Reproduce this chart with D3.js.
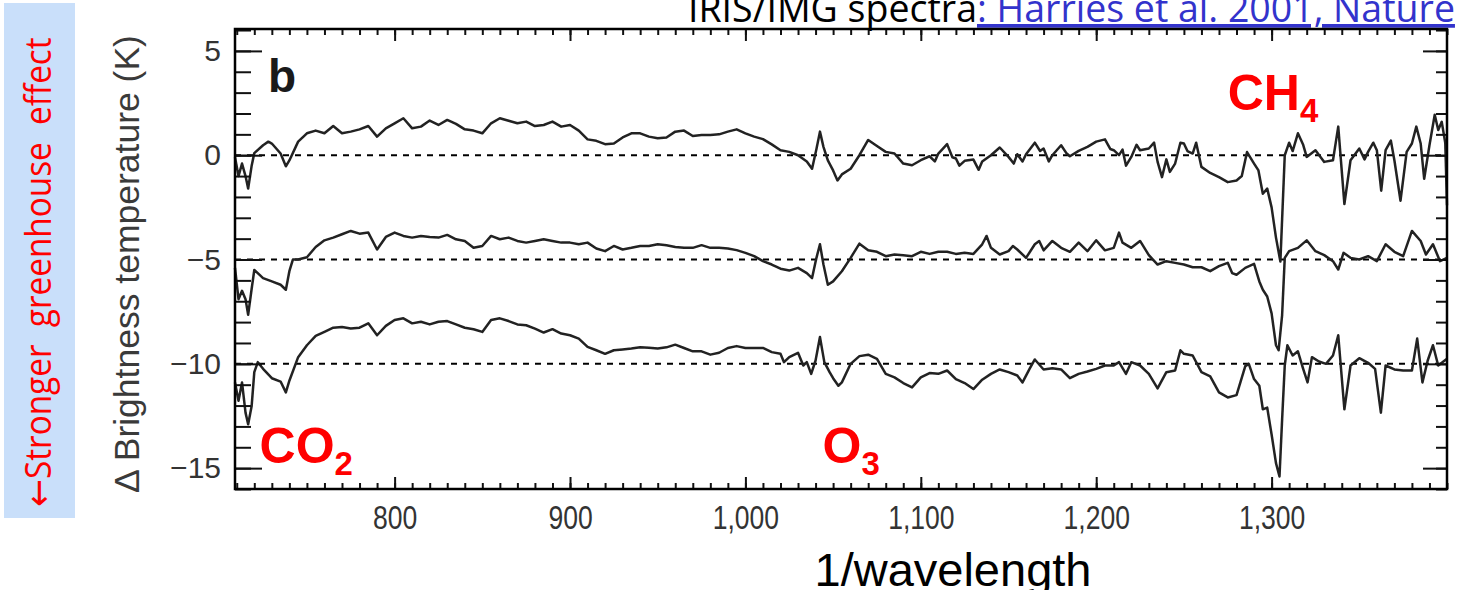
<!DOCTYPE html>
<html>
<head>
<meta charset="utf-8">
<script src="https://cdn.jsdelivr.net/npm/d3@7"></script>
<style>
  html, body { margin: 0; padding: 0; background: #fff; }
  svg { display: block; }
</style>
</head>
<body>
<svg id="chart" width="1458" height="590"></svg>
<script>
// Brightness-temperature difference spectra (1997 minus 1970), three panels offset by 5 K.
// Each series: [wavenumber (cm^-1), delta T (K, including the panel offset)]
const spectrumUpper = [
  [709,-0.1],[711,-1.0],[713,-0.4],[715,-1.0],[716.5,-1.6],[718.5,-0.5],[720,0.1],
  [725,0.48],[728,0.65],[730,0.56],[735,0.08],[738,-0.53],[740,-0.25],[745,0.65],[750,1.05],
  [755,1.18],[760,1.05],[765,1.4],[770,1.05],[775,1.13],[780,1.24],[785,1.4],[790,0.89],
  [795,1.29],[800,1.53],[805,1.77],[810,1.29],[815,1.37],[820,1.66],[825,1.45],[830,1.69],
  [835,1.5],[840,1.24],[845,1.18],[850,1.05],[855,1.53],[860,1.77],[865,1.65],[870,1.53],
  [875,1.61],[880,1.4],[885,1.45],[890,1.61],[895,1.37],[900,1.45],[905,1.18],[910,0.76],
  [915,0.69],[920,0.53],[925,0.56],[930,0.85],[935,1.05],[940,1.05],[945,0.89],[950,0.81],
  [955,0.85],[960,1.13],[965,1.18],[970,0.92],[975,0.97],[980,0.97],[985,1.0],[990,1.13],
  [995,1.24],[1000,1.05],[1005,0.89],[1010,0.77],[1015,0.52],[1020,0.24],[1025,0.16],
  [1030,0.0],[1035,-0.3],[1038,-0.65],[1040.5,0.3],[1042.5,1.13],[1044.5,0.4],[1047,-0.25],
  [1050,-0.73],[1052.5,-1.21],[1055,-0.92],[1060,-0.65],[1065,0.0],[1070,0.73],[1075,0.44],
  [1080,0.16],[1085,0.08],[1090,-0.4],[1095,-0.48],[1100,-0.24],[1105,-0.05],[1108,-0.3],
  [1110,0.08],[1115,0.53],[1118,-0.1],[1120,-0.16],[1122,-0.5],[1125,-0.27],
  [1130,-0.21],[1133,-0.7],[1135,-0.3],[1140,0.0],[1145,0.37],[1150,-0.08],[1153,-0.4],
  [1155,0.05],[1158,-0.3],[1160,0.05],[1165,0.6],[1168,0.2],[1170,0.32],[1173,-0.3],
  [1175,0.0],[1180,0.48],[1183,0.1],[1185,-0.05],[1190,0.21],[1195,0.4],[1200,0.65],
  [1205,0.76],[1208,0.3],[1210,0.24],[1213,0.0],[1215,0.27],[1217,-0.5],[1220,-0.08],
  [1223,0.5],[1225,0.24],[1230,0.32],[1233,0.6],[1235,-0.32],[1237.5,-1.05],[1240,-0.2],
  [1242,-0.8],[1245,-0.4],[1248,0.6],[1250,0.56],[1252,0.2],[1255,0.08],[1257,0.6],
  [1260,-0.56],[1265,-0.85],[1270,-1.05],[1275,-1.29],[1280,-1.21],[1283,-1.0],[1286,0.15],
  [1290,-0.4],[1292.5,-0.73],[1295,-1.85],[1297.5,-1.6],[1300,-2.5],[1302.5,-3.95],
  [1305,-5.1],[1307.5,0.0],[1310,0.6],[1312,0.2],[1315,1.05],[1318,0.5],[1320,-0.08],
  [1325,0.24],[1330,-0.32],[1335,-0.24],[1338,1.37],[1341.5,-2.34],[1345,-0.24],
  [1350,0.32],[1353,-0.2],[1355,0.16],[1358,0.6],[1360,0.24],[1362.5,-1.7],[1365,0.24],
  [1368,0.7],[1370,-0.24],[1373.5,-2.18],[1377,0.16],[1380,0.56],[1382.5,1.37],[1385,0.56],
  [1387,-1.13],[1390,0.48],[1393,1.94],[1395,1.21],[1397,1.6],[1399,0.6],[1400,-2.4]
];

const spectrumMiddle = [
  [709,-5.4],[711,-6.9],[713,-6.5],[715,-6.9],[716.5,-7.65],[718.5,-6.4],[720,-5.5],
  [725,-5.89],[730,-6.05],[735,-6.21],[738,-6.45],[740,-5.56],[742,-5.0],[745,-5.0],
  [750,-4.89],[755,-4.4],[760,-4.08],[765,-3.95],[770,-3.79],[775,-3.63],[780,-3.76],
  [785,-3.71],[790,-4.52],[795,-3.92],[800,-3.71],[805,-3.87],[810,-3.95],[815,-3.87],
  [820,-3.92],[825,-3.95],[830,-3.82],[835,-4.03],[840,-4.11],[845,-4.44],[850,-4.35],
  [855,-3.87],[860,-4.03],[865,-3.95],[870,-4.11],[875,-4.19],[880,-4.11],[885,-4.03],
  [890,-4.11],[895,-4.19],[900,-4.19],[905,-4.27],[910,-4.19],[915,-4.47],[920,-4.6],
  [925,-4.35],[930,-4.52],[935,-4.44],[940,-4.35],[945,-4.35],[950,-4.27],[955,-4.32],
  [960,-4.4],[965,-4.44],[970,-4.44],[975,-4.31],[980,-4.44],[985,-4.44],[990,-4.47],
  [995,-4.55],[1000,-4.68],[1005,-4.84],[1010,-5.08],[1015,-5.24],[1020,-5.44],
  [1025,-5.53],[1030,-5.4],[1035,-5.65],[1038,-5.89],[1040.5,-4.92],[1042.5,-4.27],
  [1044.5,-5.24],[1047,-6.21],[1050,-6.05],[1055,-5.56],[1060,-4.92],[1065,-4.24],
  [1070,-4.56],[1075,-4.63],[1080,-4.84],[1085,-4.76],[1090,-4.79],[1095,-4.84],
  [1100,-4.63],[1105,-4.73],[1110,-4.63],[1115,-4.63],[1120,-4.73],[1125,-4.68],
  [1130,-4.73],[1135,-4.27],[1137.5,-3.87],[1140,-4.44],[1145,-4.76],[1150,-4.6],
  [1152.5,-4.35],[1155,-4.52],[1160,-4.92],[1165,-4.27],[1167.5,-4.11],[1170,-4.56],
  [1175,-4.11],[1180,-4.44],[1185,-4.63],[1190,-4.19],[1195,-4.6],[1200,-4.08],
  [1205,-4.56],[1210,-4.44],[1213,-3.71],[1215,-4.19],[1220,-4.44],[1225,-4.11],
  [1230,-4.79],[1235,-5.24],[1240,-5.08],[1245,-5.16],[1250,-5.24],[1255,-5.37],
  [1260,-5.37],[1265,-5.56],[1270,-5.32],[1275,-5.16],[1277.5,-5.65],[1280,-5.73],
  [1285,-5.4],[1290,-5.21],[1293,-6.05],[1295,-6.45],[1297.5,-6.77],[1300,-7.58],
  [1302.5,-9.11],[1304,-9.35],[1306,-7.66],[1307.5,-4.92],[1310,-4.6],[1315,-4.44],
  [1320,-4.08],[1325,-4.6],[1330,-4.79],[1335,-5.08],[1338,-5.48],[1341,-4.68],
  [1345,-4.92],[1350,-5.0],[1355,-4.84],[1360,-5.08],[1365,-4.27],[1370,-4.63],
  [1375,-4.84],[1380,-3.63],[1385,-4.11],[1388,-4.76],[1392,-4.27],[1396,-5.08],[1400,-4.92]
];

const spectrumLower = [
  [709,-10.89],[711,-11.77],[713,-10.89],[715,-12.34],[716.5,-12.9],[718.5,-12.02],
  [720,-10.4],[722,-9.92],[725,-10.24],[730,-10.69],[735,-10.85],[738,-11.37],
  [740,-10.81],[745,-9.68],[750,-9.11],[755,-8.66],[760,-8.47],[765,-8.27],[770,-8.23],
  [775,-8.31],[780,-8.27],[785,-8.06],[790,-8.63],[795,-8.18],[800,-7.9],[805,-7.82],
  [810,-8.06],[815,-7.98],[820,-8.11],[825,-7.98],[830,-7.95],[835,-8.11],[840,-8.27],
  [845,-8.34],[850,-8.47],[855,-7.9],[860,-7.82],[865,-7.95],[870,-8.11],[875,-8.15],
  [880,-8.31],[885,-8.5],[890,-8.34],[895,-8.55],[900,-8.63],[905,-8.79],[910,-9.19],
  [915,-9.35],[920,-9.52],[925,-9.35],[930,-9.31],[935,-9.27],[940,-9.21],[945,-9.23],
  [950,-9.27],[955,-9.21],[960,-9.08],[965,-9.24],[970,-9.4],[975,-9.4],[980,-9.56],
  [985,-9.47],[990,-9.24],[995,-9.15],[1000,-9.24],[1005,-9.24],[1010,-9.24],
  [1015,-9.44],[1020,-9.52],[1022,-9.92],[1025,-9.68],[1030,-9.47],[1033,-10.08],
  [1035,-9.92],[1037.5,-10.48],[1040,-9.84],[1042.5,-8.71],[1045,-9.92],[1048,-10.4],
  [1050,-10.69],[1053,-11.05],[1055,-10.89],[1060,-10.0],[1065,-9.63],[1070,-9.56],
  [1075,-9.76],[1080,-10.48],[1085,-10.65],[1090,-10.92],[1095,-11.13],[1100,-10.65],
  [1105,-10.44],[1110,-10.48],[1115,-10.32],[1120,-10.73],[1125,-10.92],[1130,-11.21],
  [1135,-10.76],[1140,-10.48],[1145,-10.27],[1150,-10.4],[1155,-10.56],[1158,-10.89],
  [1162,-10.24],[1165,-9.79],[1170,-10.27],[1175,-10.21],[1180,-10.27],[1185,-10.69],
  [1190,-10.48],[1195,-10.37],[1200,-10.24],[1205,-10.08],[1210,-10.08],[1213,-9.92],
  [1217,-10.48],[1220,-9.92],[1225,-10.08],[1230,-10.48],[1235,-11.18],[1240,-10.4],
  [1245,-10.32],[1248,-9.35],[1250,-9.52],[1255,-9.6],[1260,-10.4],[1265,-10.6],
  [1270,-11.37],[1275,-11.61],[1280,-11.5],[1285,-10.11],[1287,-10.0],[1290,-10.73],
  [1293,-11.05],[1295,-12.18],[1297.5,-12.1],[1300,-13.39],[1302.5,-14.76],
  [1304.5,-15.4],[1306,-12.66],[1307.5,-10.08],[1309,-9.11],[1312,-9.6],[1315,-9.4],
  [1318,-10.24],[1320.5,-10.89],[1323,-9.68],[1327,-9.89],[1331,-10.0],[1335,-9.6],
  [1338,-8.63],[1341.5,-12.18],[1345,-10.08],[1350,-9.73],[1355,-9.95],[1359,-10.24],
  [1362.3,-12.34],[1365,-10.08],[1370,-10.27],[1375,-10.32],[1380,-10.32],[1383,-8.79],
  [1386,-10.89],[1389,-9.84],[1392,-9.11],[1395,-10.08],[1400,-9.76]
];

const panelBaselines = [0, -5, -10];
const xTickValues = [800, 900, 1000, 1100, 1200, 1300];
const xTickLabels = ["800", "900", "1,000", "1,100", "1,200", "1,300"];
const yTickValues = [5, 0, -5, -10, -15];
const yTickLabels = ["5", "0", "\u22125", "\u221210", "\u221215"];
const gasLabels = [
  { main: "CO", sub: "2", nu: 723, dT: -14.75 },
  { main: "O", sub: "3", nu: 1044, dT: -14.75 },
  { main: "CH", sub: "4", nu: 1275, dT: 2.15 }
];

const svg = d3.select("#chart");
const W = 1458, H = 590;
const plot = { left: 235, right: 1447, top: 29, bottom: 489 };

const x = d3.scaleLinear().domain([709, 1400]).range([plot.left, plot.right]);
const y = d3.scaleLinear().domain([-16, 6.05]).range([plot.bottom, plot.top]);

svg.append("rect").attr("width", W).attr("height", H).attr("fill", "#fff");

const defs = svg.append("defs");
defs.append("filter").attr("id", "soft")
  .append("feGaussianBlur").attr("stdDeviation", 0.45);

// side note panel
svg.append("rect").attr("x", 4).attr("y", 3).attr("width", 71).attr("height", 515)
  .attr("fill", "#c9dffa");
const side = svg.append("text")
  .attr("font-family", "'Open Sans', 'Noto Sans', sans-serif")
  .attr("font-size", 37)
  .attr("fill", "#ff0000")
  .attr("xml:space", "preserve");
side.append("tspan").attr("font-family", "'DejaVu Sans', sans-serif").text("\u2190");
side.append("tspan").text("Stronger  greenhouse  effect");
// condense along the reading direction so the note spans the panel height
const sideLen = side.node().getComputedTextLength();
side.attr("transform", `translate(51,507) rotate(-90) scale(${470 / sideLen},1)`);

// source caption, partly above the page edge
const cap = svg.append("text")
  .attr("x", 688).attr("y", 22)
  .attr("font-family", "'Open Sans', 'Noto Sans', sans-serif")
  .attr("font-size", 37.5)
  .attr("fill", "#000");
cap.append("tspan").text("IRIS/IMG spectra");
cap.append("tspan").attr("fill", "#3333cc").attr("text-decoration", "underline")
  .text(": Harries et al. 2001, Nature");

// dashed zero lines for each panel
svg.append("g").selectAll("line").data(panelBaselines).join("line")
  .attr("x1", plot.left).attr("x2", plot.right)
  .attr("y1", d => y(d)).attr("y2", d => y(d))
  .attr("stroke", "#000").attr("stroke-width", 2)
  .attr("stroke-dasharray", "6,6");

// spectra
const line = d3.line().x(d => x(d[0])).y(d => y(d[1]));
svg.append("g").attr("filter", "url(#soft)").selectAll("path")
  .data([spectrumUpper, spectrumMiddle, spectrumLower]).join("path")
  .attr("d", line)
  .attr("fill", "none")
  .attr("stroke", "#222")
  .attr("stroke-width", 2.5)
  .attr("stroke-linejoin", "round");

// tick marks on all four sides, pointing inward
const minorX = d3.range(710, 1401, 10);
const minorY = d3.range(-16, 7, 1);
function ticks(axis, tx, ty, values, size) {
  const g = svg.append("g").attr("transform", `translate(${tx},${ty})`)
    .call(axis.tickValues(values).tickSize(size).tickFormat(""));
  g.select(".domain").remove();
  g.selectAll(".tick line").attr("stroke", "#111").attr("stroke-width", 2);
}
ticks(d3.axisTop(x), 0, plot.bottom, minorX, 6);
ticks(d3.axisTop(x), 0, plot.bottom, xTickValues, 12);
ticks(d3.axisBottom(x), 0, plot.top, minorX, 6);
ticks(d3.axisBottom(x), 0, plot.top, xTickValues, 12);
ticks(d3.axisRight(y), plot.left, 0, minorY, 16);
ticks(d3.axisRight(y), plot.left, 0, yTickValues, 27);
ticks(d3.axisLeft(y), plot.right, 0, minorY, 11);
ticks(d3.axisLeft(y), plot.right, 0, yTickValues, 24);

// frame
svg.append("rect")
  .attr("x", plot.left).attr("y", plot.top)
  .attr("width", plot.right - plot.left).attr("height", plot.bottom - plot.top)
  .attr("fill", "none").attr("stroke", "#000").attr("stroke-width", 2.5);

// tick labels
const xLab = svg.append("g").attr("transform", `translate(0,${plot.bottom})`)
  .call(d3.axisBottom(x).tickValues(xTickValues).tickSize(0).tickPadding(16)
    .tickFormat((d, i) => xTickLabels[i]));
xLab.select(".domain").remove();
xLab.selectAll("text")
  .attr("font-family", "'Liberation Sans', Arial, sans-serif")
  .attr("font-size", 34).attr("fill", "#333")
  .attr("transform", "scale(0.78,1)");

const yLab = svg.append("g").attr("transform", `translate(${plot.left},0)`)
  .call(d3.axisLeft(y).tickValues(yTickValues).tickSize(0).tickPadding(14)
    .tickFormat((d, i) => yTickLabels[i]));
yLab.select(".domain").remove();
yLab.selectAll("text")
  .attr("font-family", "'Liberation Sans', Arial, sans-serif")
  .attr("font-size", 30).attr("fill", "#333");

// axis titles
svg.append("text")
  .attr("transform", `translate(139,${(plot.top + plot.bottom) / 2 + 5}) rotate(-90)`)
  .attr("text-anchor", "middle")
  .attr("font-family", "'Liberation Sans', Arial, sans-serif")
  .attr("font-size", 35.5).attr("fill", "#3a3a3a")
  .text("\u0394 Brightness temperature (K)");

svg.append("text")
  .attr("x", 953).attr("y", 586)
  .attr("text-anchor", "middle")
  .attr("font-family", "'Liberation Sans', Arial, sans-serif")
  .attr("font-size", 47).attr("fill", "#000")
  .text("1/wavelength");

// panel letter
svg.append("text")
  .attr("x", 268).attr("y", 92)
  .attr("font-family", "'Liberation Sans', Arial, sans-serif")
  .attr("font-weight", "bold").attr("font-size", 46).attr("fill", "#1a1a1a")
  .text("b");

// absorbing gas annotations
const gl = svg.append("g").selectAll("text").data(gasLabels).join("text")
  .attr("x", d => x(d.nu)).attr("y", d => y(d.dT))
  .attr("font-family", "'Liberation Sans', Arial, sans-serif")
  .attr("font-weight", "bold").attr("font-size", 50).attr("fill", "#ff0000");
gl.append("tspan").text(d => d.main);
gl.append("tspan").attr("font-size", 33).attr("dy", 12).text(d => d.sub);
</script>
</body>
</html>
